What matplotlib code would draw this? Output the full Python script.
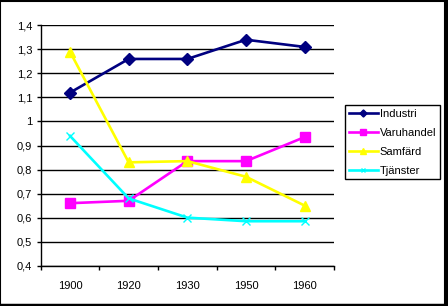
import matplotlib.pyplot as plt
from matplotlib.patches import Rectangle

# Данные
years = ['1900', '1920', '1930', '1950', '1960']
industri = [1.12, 1.26, 1.26, 1.34, 1.31]
varuhandel = [0.66, 0.67, 0.835, 0.835, 0.935]
samfard = [1.29, 0.83, 0.835, 0.77, 0.65]
tjanster = [0.94, 0.68, 0.60, 0.585, 0.585]
y_ticks = [0.4, 0.5, 0.6, 0.7, 0.8, 0.9, 1.0, 1.1, 1.2, 1.3, 1.4]
y_labels = ['0,4', '0,5', '0,6', '0,7', '0,8', '0,9', '1', '1,1', '1,2', '1,3', '1,4']

plt.rcParams['font.family'] = ['Liberation Sans', 'DejaVu Sans']
plt.rcParams['font.size'] = 8

fig = plt.figure(figsize=(4.48, 3.06), dpi=100)
ax = fig.add_axes([0.0908, 0.1317, 0.6547, 0.7856])

x = range(len(years))
ax.plot(x, industri, color='#000080', lw=1.9, marker='D', ms=6, label='Industri')
ax.plot(x, varuhandel, color='#FF00FF', lw=1.9, marker='s', ms=6.5, label='Varuhandel')
ax.plot(x, samfard, color='#FFFF00', lw=1.9, marker='^', ms=7.5, label='Samfärd')
ax.plot(x, tjanster, color='#00FFFF', lw=1.9, marker='x', ms=6, mew=1, label='Tjänster')

ax.set_xlim(-0.5, len(years) - 0.5)
ax.set_ylim(0.4, 1.4)
ax.set_yticks(y_ticks)
ax.set_yticklabels(y_labels)
ax.set_xticks(list(x))
ax.set_xticklabels(years)
ax.set_xticks([i - 0.5 for i in range(len(years) + 1)], minor=True)
ax.tick_params(axis='x', which='major', length=0, pad=11)
ax.tick_params(axis='x', which='minor', length=3, width=1, direction='out')
ax.tick_params(axis='y', length=3, width=1, direction='out', pad=3)
ax.grid(axis='y', color='black', lw=1)
ax.set_axisbelow(True)
for s in ['top', 'right']:
    ax.spines[s].set_visible(False)
for s in ['left', 'bottom']:
    ax.spines[s].set_linewidth(1)

leg = fig.legend(loc='upper left', bbox_to_anchor=(0.770, 0.657), borderaxespad=0,
                 fancybox=False, edgecolor='black', framealpha=1, handlelength=2.6,
                 handletextpad=0.2, labelspacing=0.8, markerscale=0.6, borderpad=0.35)
leg.get_frame().set_linewidth(1)

# рамка вокруг всей картинки
fig.patches.append(Rectangle((0.001, 0.004), 0.993, 0.994, transform=fig.transFigure,
                             fill=False, edgecolor='black', lw=1.5))
fig.patches.append(Rectangle((0.0, 0.0), 1.0, 0.008, transform=fig.transFigure,
                             color='black'))
fig.patches.append(Rectangle((0.994, 0.0), 0.006, 1.0, transform=fig.transFigure,
                             color='black'))

fig.savefig('out.png', dpi=100)
